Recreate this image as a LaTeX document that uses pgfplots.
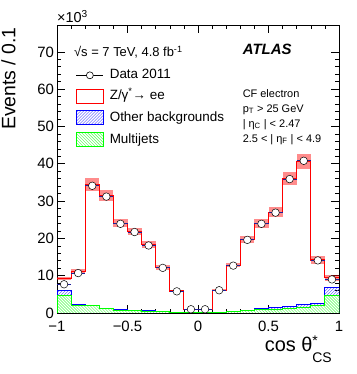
\documentclass[border=0pt]{standalone}
\usepackage{fontspec}
\setmainfont{Liberation Sans}
\usepackage{pgfplots}
\usepackage{pgfplotstable}
\pgfplotsset{compat=1.18}
\usetikzlibrary{patterns}

\definecolor{databar}{rgb}{0.12,0.12,0.6}

% data marker: bin-wide bar with an open circle over it
\pgfdeclareplotmark{databin}{%
  \pgfsetlinewidth{1pt}\pgfsetstrokecolor{databar}%
  \pgfpathmoveto{\pgfqpoint{-7.05bp}{0pt}}%
  \pgfpathlineto{\pgfqpoint{7.05bp}{0pt}}%
  \pgfusepathqstroke
  \pgfsetlinewidth{0.5pt}\pgfsetstrokecolor{black}\pgfsetfillcolor{white}%
  \pgfpathcircle{\pgfpointorigin}{3.8bp}%
  \pgfusepathqfillstroke}

% bins of cos theta*, values in thousands of events
\pgfplotstableread{
lo    ctr    data  mc    blo   bhi   other mj
-1.0  -0.95  7.7   9.3   8.85  9.75  6.0   4.7
-0.9  -0.85  10.7  11.1  10.5  11.7  2.4   2.1
-0.8  -0.75  34.1  34.5  32.8  36.2  2.1   1.9
-0.7  -0.65  31.2  31.4  29.9  32.9  1.25  1.1
-0.6  -0.55  23.9  24.1  23.0  25.2  0.9   0.8
-0.5  -0.45  21.7  21.9  20.9  22.9  0.8   0.7
-0.4  -0.35  18.1  18.4  17.5  19.3  0.6   0.5
-0.3  -0.25  12.1  12.2  11.6  12.8  0.35  0.3
-0.2  -0.15  5.8   5.9   5.6   6.2   0.1   0.1
-0.1  -0.05  1.0   1.0   0.95  1.05  0.05  0.03
0.0   0.05   1.0   1.0   0.95  1.05  0.05  0.03
0.1   0.15   6.1   6.1   5.8   6.4   0.2   0.1
0.2   0.25   12.7  12.8  12.2  13.4  0.5   0.3
0.3   0.35   19.6  19.7  18.7  20.7  0.8   0.6
0.4   0.45   23.9  24.0  22.8  25.2  1.25  0.9
0.5   0.55   26.9  27.0  25.7  28.3  1.4   0.9
0.6   0.65   35.9  36.0  34.2  37.8  1.8   1.2
0.7   0.75   40.8  40.6  38.5  42.7  2.3   1.6
0.8   0.85   14.1  14.2  13.2  15.2  2.6   2.0
0.9   0.95   9.0   9.4   8.5   10.3  6.8   4.7
1.0   1.05   9.0   9.4   8.5   10.3  6.8   4.7
}\hist

\begin{document}
\begin{tikzpicture}
\useasboundingbox (-57bp,-61bp) rectangle (300bp,313bp);
\begin{axis}[
  scale only axis, width=282bp, height=288bp,
  xmin=-1, xmax=1, ymin=0, ymax=77.2,
  clip marker paths=true,
  xtick={-1,-0.5,0,0.5,1}, xticklabels={−1,−0.5,0,0.5,1},
  ytick={0,10,...,70},
  minor tick num=4,
  tick align=inside,
  major tick length=8bp, minor tick length=4bp,
  tick style={black, line width=0.6pt},
  axis line style={line width=0.7pt},
  ticklabel style={font=\fontsize{15}{17}\selectfont},
  xticklabel style={yshift=-4.5bp},
  yticklabel style={xshift=0.5bp},
  /pgf/number format/assume math mode=true,
  legend style={draw=none, fill=none, inner sep=0pt, outer sep=0pt,
    at={(rel axis cs:0.067,0.847)}, anchor=north west,
    row sep=7bp, column sep=6bp,
    font=\fontsize{13.5}{15}\selectfont,
    nodes={inner sep=0pt, text height=9.5bp, text depth=3bp}},
  legend cell align=left,
]
% backgrounds
\addplot[forget plot, const plot, draw=blue, line width=0.9pt,
  pattern=north east lines, pattern color=blue!70]
  table[x=lo, y=other]{\hist} \closedcycle;
\addplot[forget plot, const plot, draw=green, line width=0.9pt,
  preaction={fill=white}, pattern=north west lines, pattern color=green!70]
  table[x=lo, y=mj]{\hist} \closedcycle;
% uncertainty band: one wide bar per bin
\addplot[forget plot, draw=none, mark=none,
  skip coords between index={20}{21},
  error bars/.cd, y dir=both, y explicit,
  error bar style={red, opacity=0.45, line width=14.1bp}, error mark=none]
  table[x=ctr, y=mc, y error plus expr=\thisrow{bhi}-\thisrow{mc},
        y error minus expr=\thisrow{mc}-\thisrow{blo}]{\hist};
% signal + background total
\addplot[forget plot, const plot, red, line width=1.1pt]
  table[x=lo, y=mc]{\hist};
% data
\addplot[forget plot, only marks, mark=databin,
  skip coords between index={20}{21}]
  table[x=ctr, y=data]{\hist};

% legend
\addlegendimage{legend image code/.code={
  \draw[black, line width=0.6pt] (0bp,0bp) -- (27bp,0bp);
  \draw[black, line width=0.6pt, fill=white] (13.5bp,0bp) circle (3.5bp);}}
\addlegendentry{Data 2011}
\addlegendimage{legend image code/.code={
  \draw[red, line width=0.9pt] (0bp,-7bp) rectangle (27bp,7bp);}}
\addlegendentry{Z/γ\textsuperscript{*}→ ee}
\addlegendimage{legend image code/.code={
  \draw[blue, line width=0.9pt, pattern=north east lines, pattern color=blue!70]
    (0bp,-7bp) rectangle (27bp,7bp);}}
\addlegendentry{Other backgrounds}
\addlegendimage{legend image code/.code={
  \draw[green, line width=0.9pt, pattern=north west lines, pattern color=green!70]
    (0bp,-7bp) rectangle (27bp,7bp);}}
\addlegendentry{Multijets}

\node[anchor=base west, inner sep=0pt, font=\fontsize{13}{15}\selectfont]
  at (rel axis cs:0.060,0.890) {√s = 7 TeV, 4.8 fb\textsuperscript{-1}};
\node[anchor=base west, inner sep=0pt, font=\fontsize{15}{17}\selectfont\bfseries\itshape]
  at (rel axis cs:0.6585,0.896) {ATLAS};
\node[anchor=base west, inner sep=0pt, font=\fontsize{11}{13}\selectfont]
  at (rel axis cs:0.658,0.750) {CF electron};
\node[anchor=base west, inner sep=0pt, font=\fontsize{11}{13}\selectfont]
  at (rel axis cs:0.658,0.697) {p\textsubscript{T} > 25 GeV};
\node[anchor=base west, inner sep=0pt, font=\fontsize{11}{13}\selectfont]
  at (rel axis cs:0.658,0.645) {| η\textsubscript{C} | < 2.47};
\node[anchor=base west, inner sep=0pt, font=\fontsize{11}{13}\selectfont]
  at (rel axis cs:0.658,0.593) {2.5 < | η\textsubscript{F} | < 4.9};
\end{axis}

\node[anchor=base west, inner sep=0pt, font=\fontsize{14.5}{16}\selectfont]
  at (0bp,290.3bp) {×10\textsuperscript{3}};
\node[rotate=90, anchor=base east, inner sep=0pt, font=\fontsize{19.5}{22}\selectfont]
  at (-41.5bp,286bp) {Events / 0.1};
\node[anchor=base east, inner sep=0pt, font=\fontsize{20}{22}\selectfont]
  at (275bp,-38.7bp) {cos θ\makebox[0pt][l]{\raisebox{6bp}{\fontsize{14}{14}\selectfont *}}\raisebox{-11bp}{\fontsize{14}{14}\selectfont CS}};
\end{tikzpicture}
\end{document}
